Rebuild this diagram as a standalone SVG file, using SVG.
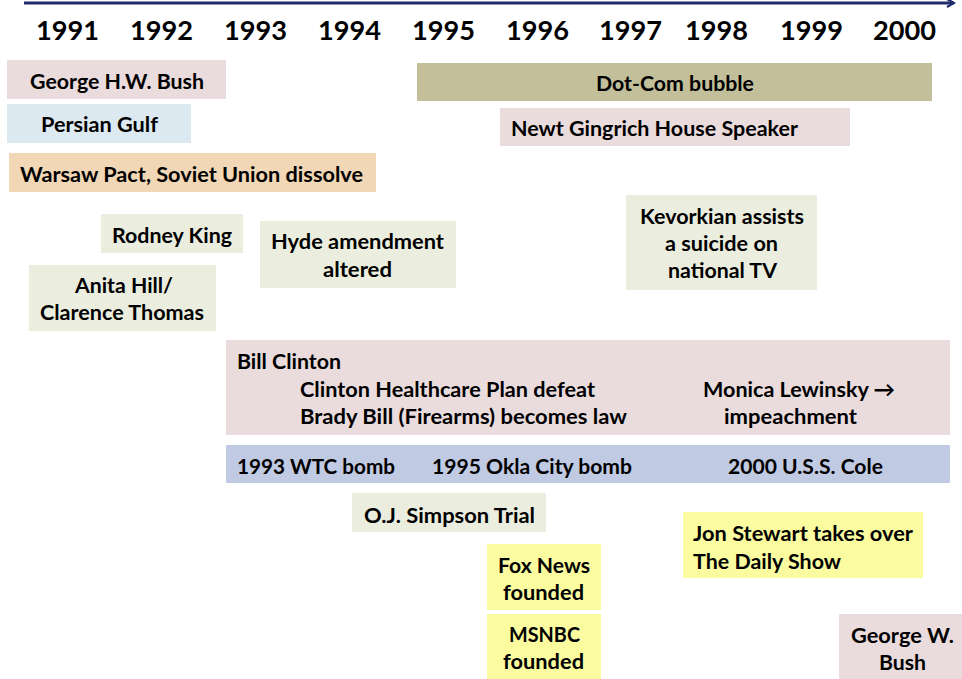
<svg xmlns="http://www.w3.org/2000/svg" width="962" height="679" viewBox="0 0 962 679">
<defs>
<marker id="ah" markerWidth="10" markerHeight="10" refX="8" refY="5" orient="auto" markerUnits="userSpaceOnUse">
<path d="M1,1 L8,5 L1,9" fill="none" stroke="#1f2b6a" stroke-width="2.2"/>
</marker>
</defs>
<style>
text{font-family:Lato,"Open Sans","Liberation Sans",sans-serif;font-weight:700;font-size:21px;fill:#000}
.yr{font-size:27px}
.pink{fill:#eadcdc}.blue{fill:#dde9f1}.peach{fill:#f1d7b5}.olive{fill:#c2bf9a}.green{fill:#ebeede}.band{fill:#c0cae2}.yellow{fill:#fbfca0}
</style>
<g id="axis">
<line x1="24" y1="3" x2="954" y2="3" stroke="#1f2b6a" stroke-width="3" marker-end="url(#ah)"/>
<text class="yr" x="36" y="40" textLength="63" lengthAdjust="spacingAndGlyphs">1991</text>
<text class="yr" x="130" y="40" textLength="63" lengthAdjust="spacingAndGlyphs">1992</text>
<text class="yr" x="224" y="40" textLength="63" lengthAdjust="spacingAndGlyphs">1993</text>
<text class="yr" x="318" y="40" textLength="63" lengthAdjust="spacingAndGlyphs">1994</text>
<text class="yr" x="412" y="40" textLength="63" lengthAdjust="spacingAndGlyphs">1995</text>
<text class="yr" x="506" y="40" textLength="63" lengthAdjust="spacingAndGlyphs">1996</text>
<text class="yr" x="599" y="40" textLength="63" lengthAdjust="spacingAndGlyphs">1997</text>
<text class="yr" x="685" y="40" textLength="63" lengthAdjust="spacingAndGlyphs">1998</text>
<text class="yr" x="780" y="40" textLength="63" lengthAdjust="spacingAndGlyphs">1999</text>
<text class="yr" x="873" y="40" textLength="63" lengthAdjust="spacingAndGlyphs">2000</text>
</g>
<g id="ghwbush"><rect class="pink" x="7" y="60" width="219" height="39"/><text x="30" y="89" textLength="174" lengthAdjust="spacingAndGlyphs">George H.W. Bush</text></g>
<g id="persiangulf"><rect class="blue" x="7" y="104" width="184" height="39"/><text x="41" y="132" textLength="117" lengthAdjust="spacingAndGlyphs">Persian Gulf</text></g>
<g id="warsaw"><rect class="peach" x="9" y="153" width="367" height="39"/><text x="20" y="182" textLength="343" lengthAdjust="spacingAndGlyphs">Warsaw Pact, Soviet Union dissolve</text></g>
<g id="dotcom"><rect class="olive" x="417" y="63" width="515" height="38"/><text x="596" y="91" textLength="158" lengthAdjust="spacingAndGlyphs">Dot-Com bubble</text></g>
<g id="gingrich"><rect class="pink" x="500" y="108" width="350" height="38"/><text x="511" y="136" textLength="287" lengthAdjust="spacingAndGlyphs">Newt Gingrich House Speaker</text></g>
<g id="rodneyking"><rect class="green" x="101" y="214" width="142" height="39"/><text x="112" y="243" textLength="120" lengthAdjust="spacingAndGlyphs">Rodney King</text></g>
<g id="hyde"><rect class="green" x="260" y="221" width="196" height="67"/><text x="271" y="249" textLength="173" lengthAdjust="spacingAndGlyphs">Hyde amendment</text><text x="323" y="277" textLength="69" lengthAdjust="spacingAndGlyphs">altered</text></g>
<g id="anitahill"><rect class="green" x="29" y="265" width="187" height="66"/><text x="75" y="293" textLength="98" lengthAdjust="spacingAndGlyphs">Anita Hill/</text><text x="40" y="320" textLength="164" lengthAdjust="spacingAndGlyphs">Clarence Thomas</text></g>
<g id="kevorkian"><rect class="green" x="626" y="195" width="191" height="95"/><text x="640" y="224" textLength="164" lengthAdjust="spacingAndGlyphs">Kevorkian assists</text><text x="665" y="251" textLength="113" lengthAdjust="spacingAndGlyphs">a suicide on</text><text x="668" y="278" textLength="109" lengthAdjust="spacingAndGlyphs">national TV</text></g>
<g id="billclinton"><rect class="pink" x="226" y="340" width="724" height="95"/>
<text x="237" y="369" textLength="104" lengthAdjust="spacingAndGlyphs">Bill Clinton</text>
<text x="300" y="397" textLength="295" lengthAdjust="spacingAndGlyphs">Clinton Healthcare Plan defeat</text>
<text x="300" y="424" textLength="327" lengthAdjust="spacingAndGlyphs">Brady Bill (Firearms) becomes law</text>
<text x="703" y="397" textLength="192" lengthAdjust="spacingAndGlyphs">Monica Lewinsky →</text>
<text x="724" y="424" textLength="133" lengthAdjust="spacingAndGlyphs">impeachment</text></g>
<g id="terror"><rect class="band" x="226" y="445" width="724" height="38"/>
<text x="237" y="474" textLength="158" lengthAdjust="spacingAndGlyphs">1993 WTC bomb</text>
<text x="432" y="474" textLength="200" lengthAdjust="spacingAndGlyphs">1995 Okla City bomb</text>
<text x="728" y="474" textLength="155" lengthAdjust="spacingAndGlyphs">2000 U.S.S. Cole</text></g>
<g id="ojsimpson"><rect class="green" x="352" y="493" width="194" height="39"/><text x="364" y="523" textLength="171" lengthAdjust="spacingAndGlyphs">O.J. Simpson Trial</text></g>
<g id="foxnews"><rect class="yellow" x="487" y="544" width="114" height="66"/><text x="498" y="573" textLength="92" lengthAdjust="spacingAndGlyphs">Fox News</text><text x="503" y="600" textLength="81" lengthAdjust="spacingAndGlyphs">founded</text></g>
<g id="msnbc"><rect class="yellow" x="487" y="614" width="114" height="65"/><text x="509" y="642" textLength="71" lengthAdjust="spacingAndGlyphs">MSNBC</text><text x="503" y="669" textLength="81" lengthAdjust="spacingAndGlyphs">founded</text></g>
<g id="jonstewart"><rect class="yellow" x="683" y="512" width="240" height="66"/><text x="693" y="541" textLength="220" lengthAdjust="spacingAndGlyphs">Jon Stewart takes over</text><text x="693" y="569" textLength="148" lengthAdjust="spacingAndGlyphs">The Daily Show</text></g>
<g id="gwbush"><rect class="pink" x="839" y="614" width="123" height="65"/><text x="851" y="643" textLength="103" lengthAdjust="spacingAndGlyphs">George W.</text><text x="879" y="670" textLength="47" lengthAdjust="spacingAndGlyphs">Bush</text></g>
</svg>
